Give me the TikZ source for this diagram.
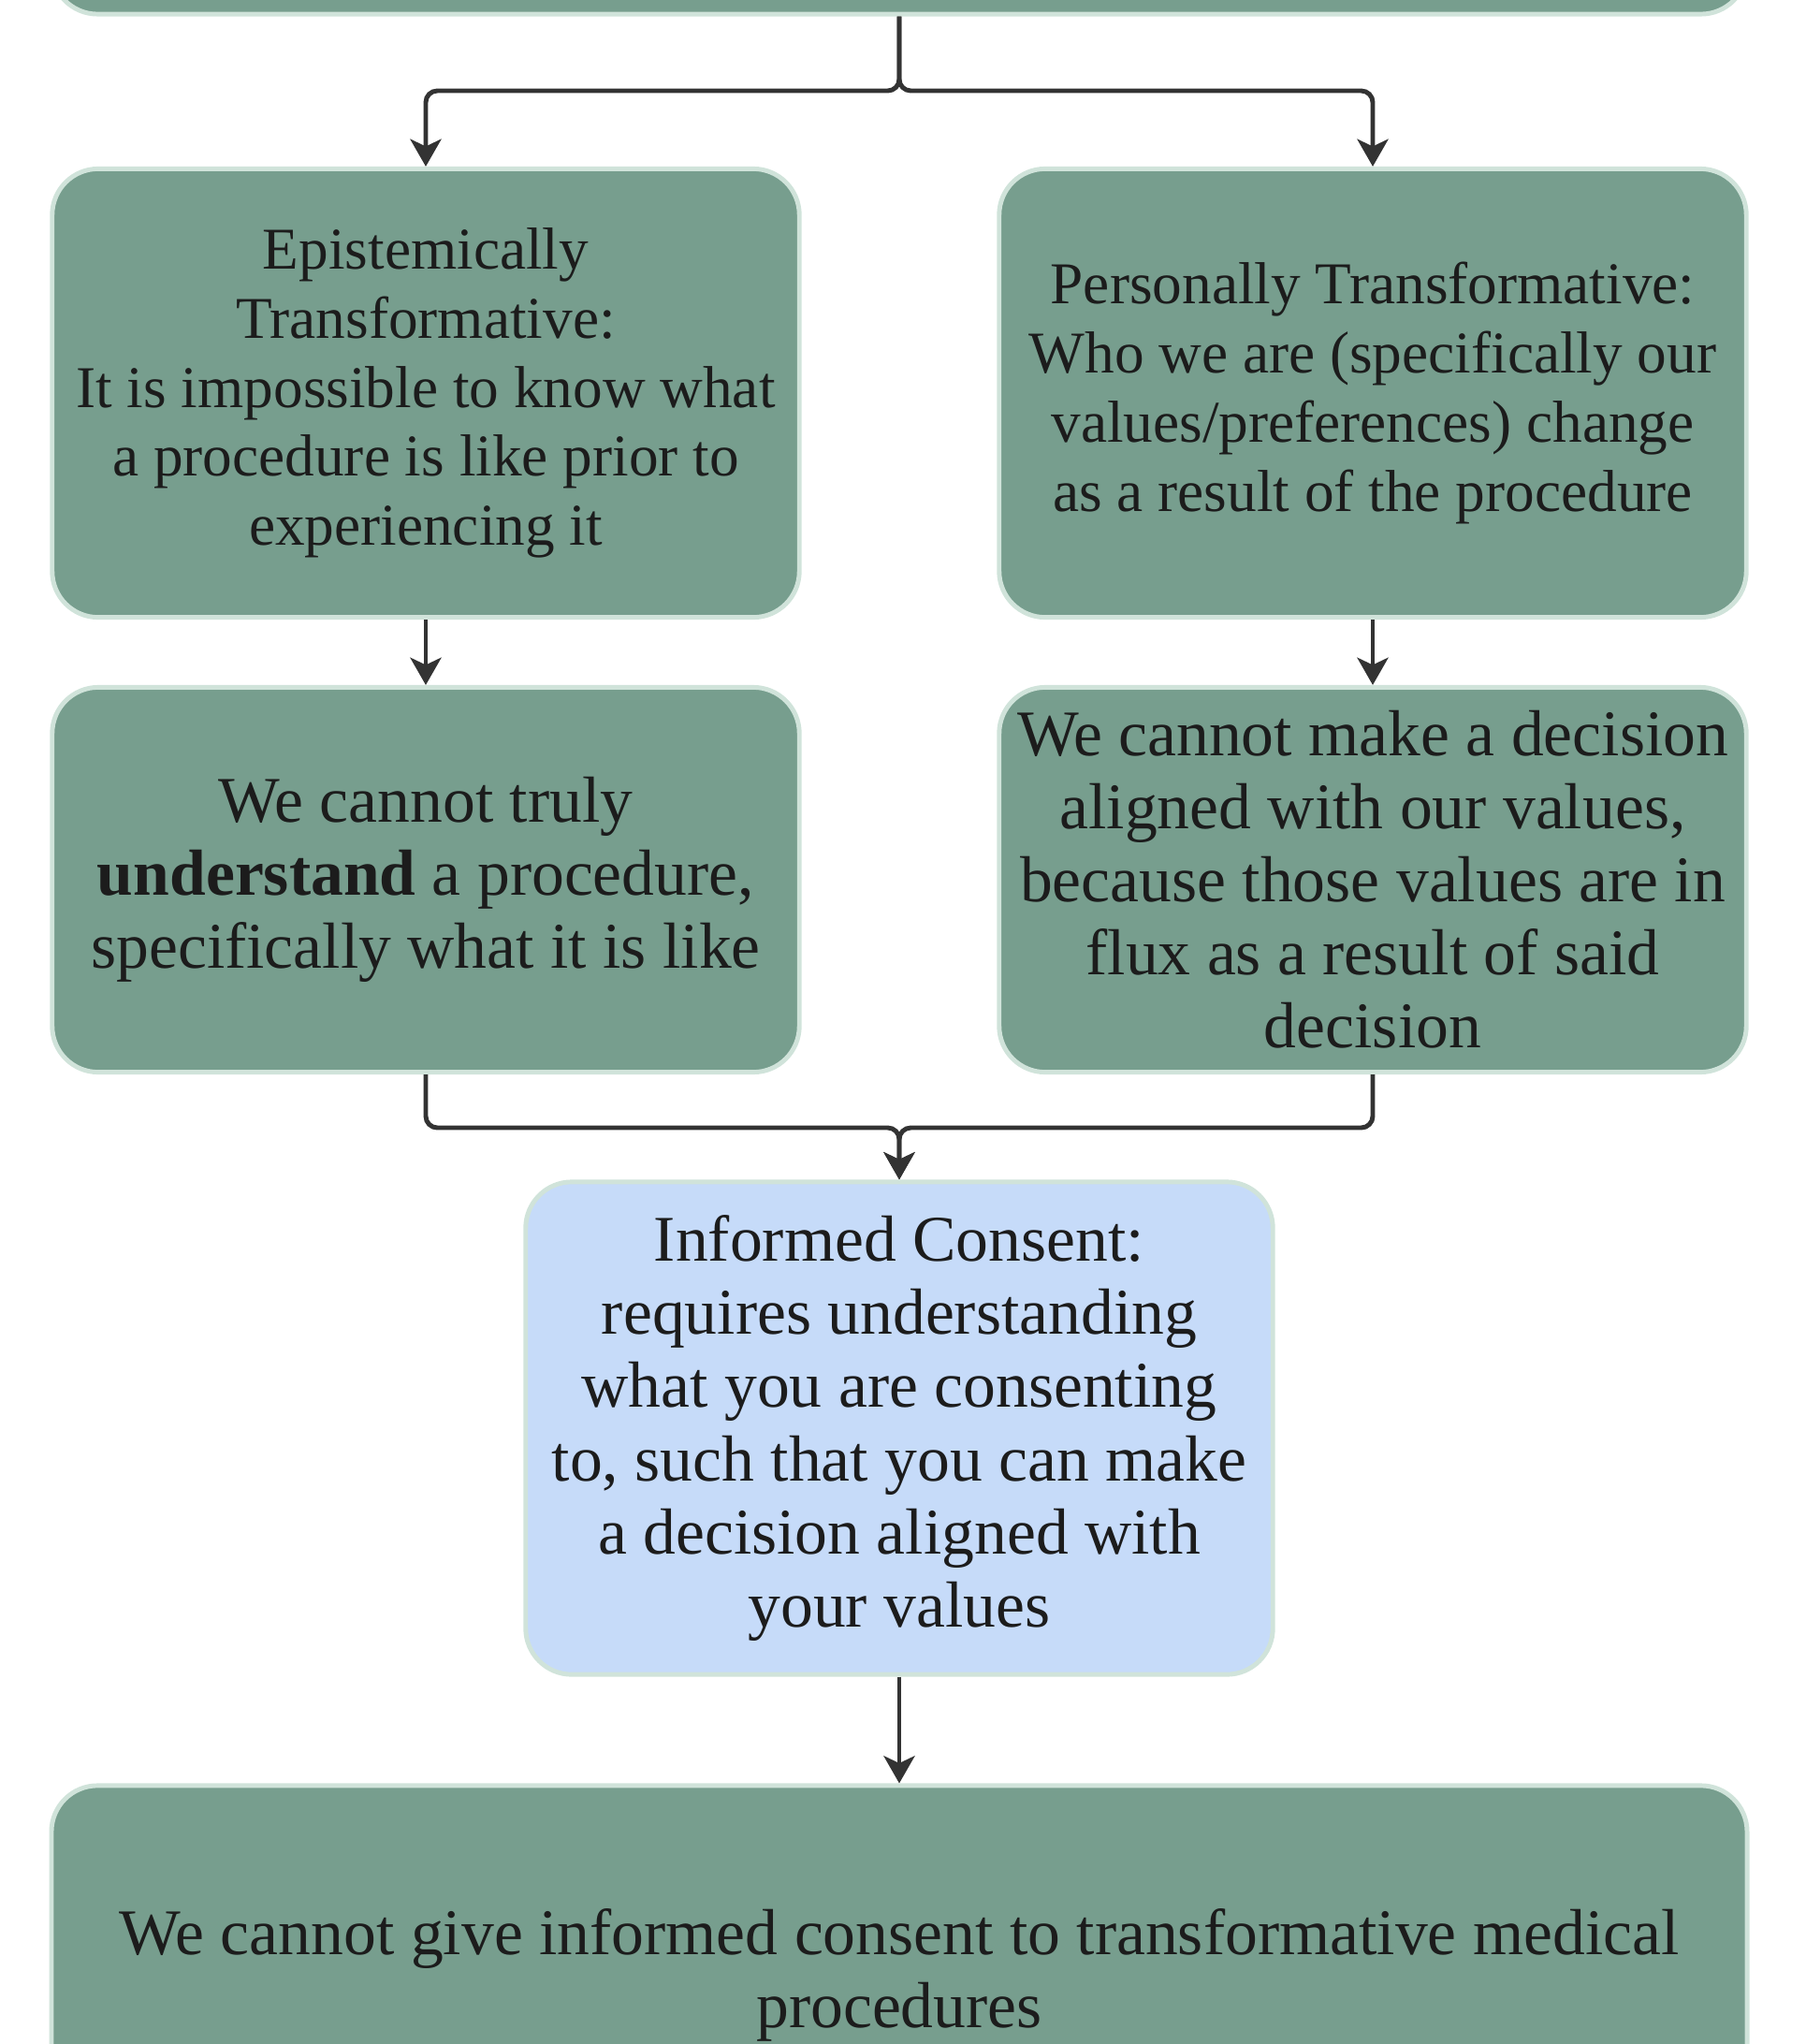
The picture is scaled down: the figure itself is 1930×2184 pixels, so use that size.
\documentclass[tikz,border=0pt]{standalone}
\usepackage{fontspec}
\setmainfont{Liberation Serif}
\usetikzlibrary{arrows.meta,positioning}

\definecolor{sage}{HTML}{779E8E}
\definecolor{sageedge}{HTML}{D0E3DA}
\definecolor{paleblue}{HTML}{C6DBF9}
\definecolor{ink}{HTML}{1C1C1C}
\definecolor{wire}{HTML}{333333}

\tikzset{
  stepbox/.style={draw=sageedge, line width=1.4pt, fill=sage, rounded corners=14pt,
    align=center, text=ink, inner sep=0pt, minimum width=7.98cm},
  bluebox/.style={stepbox, fill=paleblue},
  smalltext/.style={font=\fontsize{18}{21}\selectfont},
  bigtext/.style={font=\fontsize{19.8}{22.2}\selectfont},
  link/.style={draw=wire, line width=1.4pt, rounded corners=3.5pt,
    -{Stealth[length=8.3pt,width=9.4pt,inset=2.2pt]}}
}

\begin{document}
\begin{tikzpicture}[x=0.01cm,y=-0.01cm]
  \useasboundingbox (0,0) rectangle (1930,2184);
  \clip (0,0) rectangle (1930,2184);
% Top box (cut off)
  \node[stepbox, minimum width=18.11cm, minimum height=2.3cm] (premise) at (961,-100) {};
% First row
  \node[stepbox, smalltext, minimum height=4.79cm] (epist) at (455,420) {Epistemically\\Transformative:\\It is impossible to know what\\a procedure is like prior to\\experiencing it};
  \node[stepbox, smalltext, minimum height=4.79cm] (person) at (1467,420) {Personally Transformative:\\Who we are (specifically our\\values/preferences) change\\as a result of the procedure};
% Second row
  \node[stepbox, bigtext, minimum height=4.11cm] (understand) at (455,940) {We cannot truly\\\textbf{understand} a procedure,\\specifically what it is like};
  \node[stepbox, bigtext, minimum height=4.11cm] (values) at (1467,940) {We cannot make a decision\\aligned with our values,\\because those values are in\\flux as a result of said\\decision};
% Informed consent
  \node[bluebox, bigtext, minimum height=5.26cm] (consent) at (961,1526) {Informed Consent:\\requires understanding\\what you are consenting\\to, such that you can make\\a decision aligned with\\your values};
% Conclusion
  \node[stepbox, bigtext, minimum width=18.11cm, minimum height=4.04cm] (verdict) at (961,2110) {We cannot give informed consent to transformative medical\\procedures};
% Connectors
  \draw[link] (premise.south) -- (961,97) -| (epist.north);
  \draw[link] (premise.south) -- (961,97) -| (person.north);
  \draw[link] (epist.south) -- (understand.north);
  \draw[link] (person.south) -- (values.north);
  \draw[link] (understand.south) |- (961,1205) -- (consent.north);
  \draw[link] (values.south) |- (961,1205) -- (consent.north);
  \draw[link] (consent.south) -- (verdict.north);
\end{tikzpicture}
\end{document}
